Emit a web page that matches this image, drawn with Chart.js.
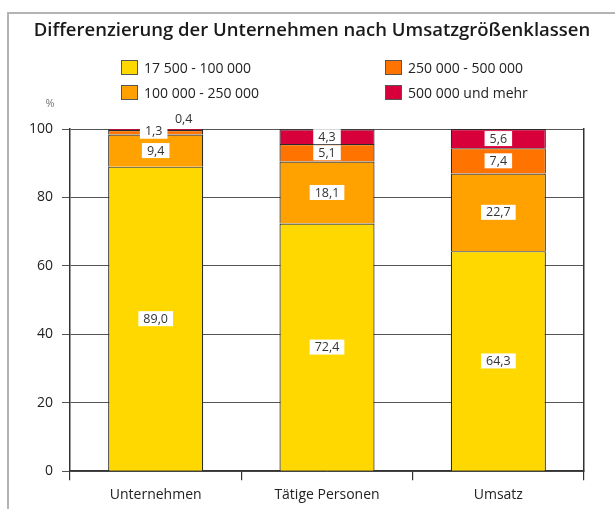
<!DOCTYPE html>
<html>
<head>
<meta charset="utf-8">
<script src="https://cdn.jsdelivr.net/npm/chart.js@4"></script>
<style>
    html, body { margin: 0; padding: 0; background: #fff; }
    body { width: 615px; height: 509px; position: relative; overflow: hidden; font-family: "Open Sans", sans-serif; }
    #frame { position: absolute; left: 7px; top: 12px; width: 700px; height: 600px; border: 2px solid #b4b4b4; }
    #chart { position: absolute; left: 0; top: 0; }
    #legend { position: absolute; left: 121px; top: 58px; width: 440px; font-size: 14px; color: #222; }
    #legend .item { position: absolute; white-space: nowrap; }
    #legend .box { display: inline-block; width: 15px; height: 13px; border: 1px solid #555; vertical-align: -2px; margin-right: 6px; }
</style>
</head>
<body>
<div id="frame"></div>
<canvas id="chart" width="615" height="509"></canvas>
<div id="legend"></div>
<script>
var chartTitle = "Differenzierung der Unternehmen nach Umsatzgrößenklassen";
var categories = ["Unternehmen", "Tätige Personen", "Umsatz"];
var seriesNames = ["17 500 - 100 000", "100 000 - 250 000", "250 000 - 500 000", "500 000 und mehr"];
var seriesColors = ["#ffd800", "#ffa200", "#ff7300", "#d8003a"];
var small = [89.0, 72.4, 64.3];      // 17 500 - 100 000
var medium = [9.4, 18.1, 22.7];      // 100 000 - 250 000
var large = [1.3, 5.1, 7.4];         // 250 000 - 500 000
var largest = [0.4, 4.3, 5.6];       // 500 000 und mehr
var yTicks = [0, 20, 40, 60, 80, 100];

var seriesValues = [small, medium, large, largest];

var datasets = [];
for (var i = 0; i < seriesValues.length; i++) {
    datasets.push({
        label: seriesNames[i],
        data: seriesValues[i],
        backgroundColor: seriesColors[i],
        borderColor: "#2a2a2a",
        borderWidth: 1.2,
        borderSkipped: "start", //one line between two segments
        categoryPercentage: 1,
        barPercentage: 0.555
    });
}

//Legend, two columns like the original
var legendPos = [[0, 0], [0, 25], [264, 0], [264, 25]];
var legend = document.getElementById("legend");
for (var i = 0; i < seriesNames.length; i++) {
    var item = document.createElement("div");
    item.className = "item";
    item.style.left = legendPos[i][0] + "px";
    item.style.top = legendPos[i][1] + "px";
    item.innerHTML = "<span class='box' style='background:" + seriesColors[i] + "'></span>" + seriesNames[i];
    legend.appendChild(item);
}

var labelsPlugin = {
    id: "valueLabels",
    afterDatasetsDraw: function(chart, args, opts) {
        var ctx = chart.ctx;
        ctx.save();
        ctx.font = "12.5px 'Open Sans'";
        ctx.textAlign = "center";
        ctx.textBaseline = "middle";
        chart.data.datasets.forEach(function(ds, di) {
            var meta = chart.getDatasetMeta(di);
            meta.data.forEach(function(bar, idx) {
                var text = ds.data[idx].toFixed(1).replace(".", ",");
                var x = bar.x;
                var y = (bar.y + bar.base) / 2;
                var shift = opts.shift[di + "-" + idx];
                if (shift) { x += shift[0]; y += shift[1]; }
                var w = ctx.measureText(text).width + 10;
                ctx.fillStyle = "#fff";
                ctx.fillRect(x - w / 2, y - 7.5, w, 15);
                ctx.fillStyle = "#333";
                ctx.fillText(text, x, y + 0.5);
            });
        });
        //percent sign above the axis
        ctx.font = "11px 'Open Sans'";
        ctx.fillStyle = "#777";
        ctx.fillText("%", chart.chartArea.left - 20, chart.chartArea.top - 25);
        //title, centred on the whole picture
        ctx.font = "600 18.5px 'Open Sans'";
        ctx.fillStyle = "#1a1a1a";
        ctx.fillText(chartTitle, 312, 31);
        ctx.restore();
    }
};

new Chart(document.getElementById("chart"), {
    type: "bar",
    data: { labels: categories, datasets: datasets },
    plugins: [labelsPlugin],
    options: {
        responsive: false,
        animation: false,
        layout: { padding: { left: 20, right: 31, top: 129, bottom: 0 } },
        plugins: {
            legend: { display: false },
            tooltip: { enabled: false },
            title: { display: false },
            valueLabels: {
                shift: { "2-0": [-2, -1], "3-0": [28, -10] }
            }
        },
        scales: {
            x: {
                stacked: true,
                grid: { offset: true, drawOnChartArea: false, tickLength: 9, color: "#333", lineWidth: 1.2 },
                border: { color: "#333", width: 1.5 },
                ticks: { color: "#222", font: { family: "Open Sans", size: 14 }, padding: 6 }
            },
            y: {
                stacked: true,
                min: 0,
                max: 100,
                afterBuildTicks: function(axis) {
                    axis.ticks = yTicks.map(function(v) { return { value: v }; });
                },
                grid: { color: "#555", lineWidth: 1, tickLength: 8 },
                border: { color: "#333", width: 1.5 },
                ticks: { color: "#222", font: { family: "Open Sans", size: 14 }, padding: 9 }
            },
            y2: {
                position: "right",
                min: 0,
                max: 100,
                grid: { drawOnChartArea: false, drawTicks: false },
                border: { color: "#333", width: 1.5 },
                ticks: { display: false }
            }
        }
    }
});
</script>
</body>
</html>
